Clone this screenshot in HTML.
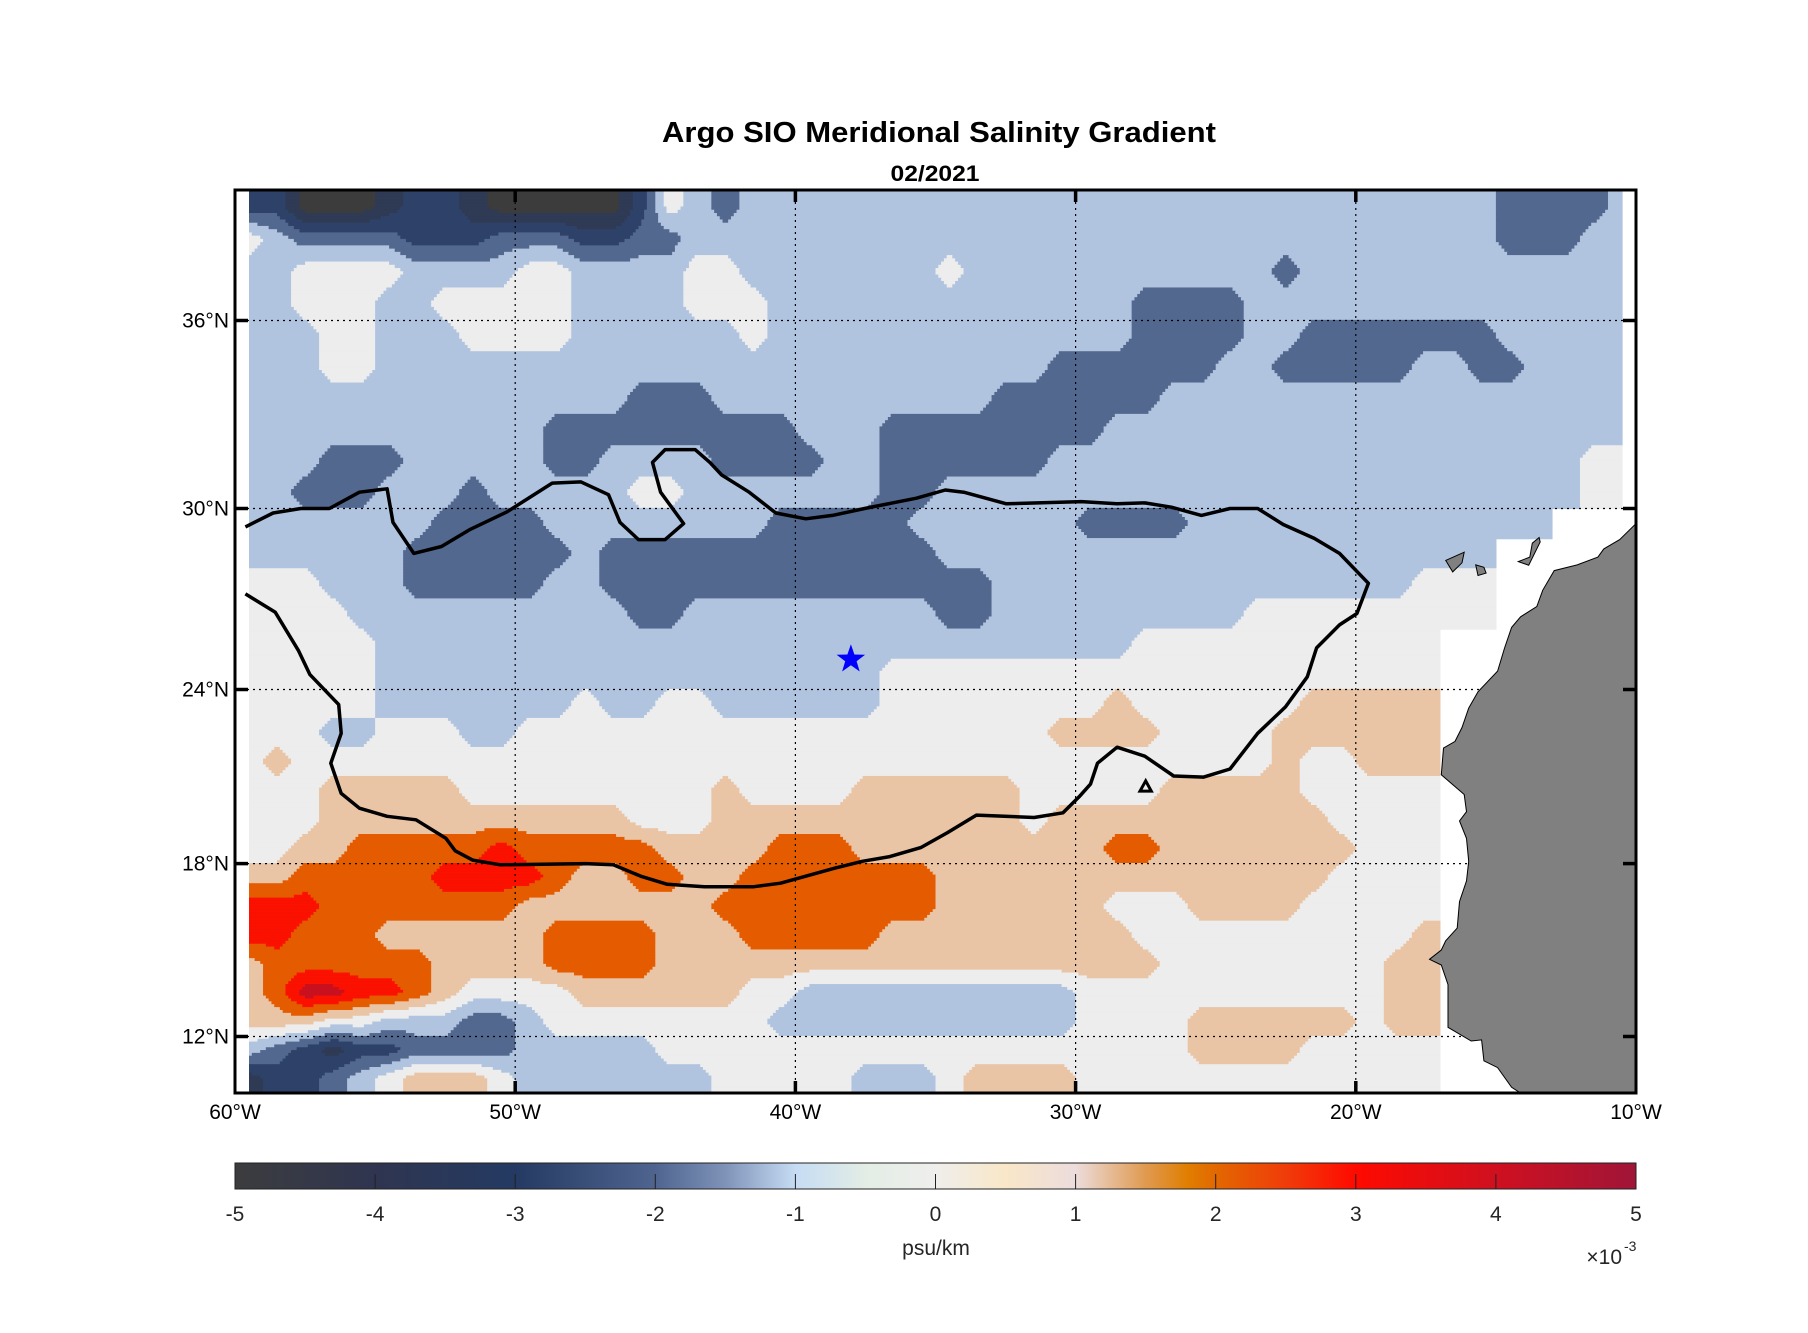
<!DOCTYPE html>
<html><head><meta charset="utf-8"><style>
html,body{margin:0;padding:0;background:#fff;}
svg{display:block;font-family:"Liberation Sans",Arial,sans-serif;}
</style></head><body>
<svg id="chart" width="1808" height="1333" viewBox="0 0 1808 1333" xmlns="http://www.w3.org/2000/svg">
<defs>
<clipPath id="plotClip"><rect x="235" y="190" width="1401" height="903"/></clipPath>
<linearGradient id="cbGrad" x1="0" x2="1" y1="0" y2="0">
<stop offset="0" stop-color="#3c3c3e"/><stop offset="0.1" stop-color="#2f3550"/><stop offset="0.2" stop-color="#243a62"/>
<stop offset="0.3" stop-color="#4f6590"/><stop offset="0.35" stop-color="#7f93b8"/><stop offset="0.4" stop-color="#c6dcf4"/>
<stop offset="0.45" stop-color="#e3ede6"/><stop offset="0.5" stop-color="#efeeec"/><stop offset="0.55" stop-color="#f9e7c8"/>
<stop offset="0.6" stop-color="#ecdcdc"/><stop offset="0.65" stop-color="#e09a50"/><stop offset="0.68" stop-color="#e07e00"/>
<stop offset="0.7" stop-color="#e26800"/><stop offset="0.75" stop-color="#f03c0a"/><stop offset="0.8" stop-color="#ff0a00"/>
<stop offset="0.9" stop-color="#cf1020"/><stop offset="1" stop-color="#a01538"/>
</linearGradient>
</defs>
<text x="939" y="142" text-anchor="middle" font-size="29" font-weight="bold" textLength="554" lengthAdjust="spacingAndGlyphs">Argo SIO Meridional Salinity Gradient</text>
<text x="935" y="181" text-anchor="middle" font-size="22" font-weight="bold" textLength="89" lengthAdjust="spacingAndGlyphs">02/2021</text>
<g id="fills" clip-path="url(#plotClip)"></g>
<g id="grid"></g>
<g id="land" clip-path="url(#plotClip)"></g>
<g id="contour" clip-path="url(#plotClip)"></g>
<g id="marker"></g>
<rect x="235" y="190" width="1401" height="903" fill="none" stroke="#000" stroke-width="3"/>
<g id="axes"></g>
<g id="cbar">
<rect x="235" y="1163" width="1401" height="26" fill="url(#cbGrad)" stroke="#222" stroke-width="1"/>
</g>
<text x="936" y="1255" text-anchor="middle" font-size="21" fill="#262626">psu/km</text>
<text x="1622" y="1264" text-anchor="end" font-size="21" fill="#262626">×10</text>
<text x="1624" y="1251" text-anchor="start" font-size="14" fill="#262626">-3</text>
</svg>
<script>
// ---- data: gridded meridional salinity gradient, bin digit d => value (d-4.5)e-3 psu/km, '.' = no data
// rows from lat 39.5N (top) to 10.5N, columns lon -59.5 .. -10.5 (1 degree)
const gridLatTop = 39.5;
const gridLonLeft = -59.5;
const gradRows = [
"220001221000002543"+"444444444444444444444444444"+"33334",
"5433332223332233"+"44444444444444444444444444444"+"33344",
"4455554444554444554"+"444444"+"5"+"44444444444"+"3"+"444444444444",
"4455544555554444555"+"4444444444444"+"3333"+"44444444444444",
"444554445555"+"444444"+"5"+"4444444444444"+"3333"+"44"+"3333333"+"44444",
"44455"+"444444444444444444444444"+"333333"+"44"+"33333"+"44"+"33"+"4444",
"44444444444444"+"333"+"4444444444"+"333333"+"44444444444444444",
"44444444444"+"333333333"+"444"+"33333333"+"4444444444444444444",
"444333"+"44444"+"33"+"4444"+"3333"+"44"+"333333"+"4444444444444444444"+"55",
"44333"+"444"+"3"+"44444"+"55"+"4444444"+"33"+"44444444444444444444444"+"55",
"4444444"+"3333"+"44444444"+"33333"+"444444"+"3333"+"4444444444444"+"...",
"444444"+"333333"+"4"+"333333333333"+"4444444444444444444"+"4"+".....",
"555"+"444"+"33333"+"44"+"33333333333333"+"444444444444444"+"555"+".....",
"5555"+"444444444"+"4"+"33"+"444444444"+"33"+"444444444"+"555555555"+".....",
"55555"+"444444444444444444444444444"+"55555555555"+".......",
"55555"+"444444444444444444"+"5555555555555555555"+"5"+".......",
"55555"+"4444444"+"5"+"44"+"55"+"444444"+"55555555"+"6"+"555555"+"66666"+".......",
"55544555445"+"555555555555555555"+"6666"+"5555"+"666666"+".......",
"56"+"55555555555555555555555555555555555"+"6"+"55"+"666"+".......",
"555"+"66666"+"555555555"+"6"+"5555"+"666666"+"55555"+"66666"+"55555"+".......",
"555"+"66666666666"+"555"+"66666666666"+"5"+"6666666666"+"5555"+".......",
"55"+"66"+"77777"+"8"+"77777"+"6666"+"777"+"666666666"+"77"+"6666666"+"555"+".......",
"66"+"77777"+"8888"+"7"+"66"+"77"+"66"+"7777777"+"66666666666666"+"5555"+".......",
"888777777"+"7"+"6666666"+"77777777"+"666666"+"555"+"6666"+"55555"+".......",
"88"+"777"+"666666"+"7777"+"666"+"77777"+"666666666"+"5555555555"+"6"+".......",
"6"+"777777"+"6666"+"7777"+"666666666666666666"+"55555555"+"66"+".......",
"67"+"99"+"88"+"7"+"6"+"5555"+"666666"+"55"+"4444444444"+"55555555555"+"66"+".......",
"666"+"55"+"444"+"33"+"4"+"55555555"+"44444444444"+"5555"+"666666"+"5"+"66"+".......",
"4"+"3"+"2"+"1"+"22"+"3333"+"44444"+"5555555555555555555"+"6666"+"55555"+".......",
"1"+"22"+"3"+"4"+"5"+"666"+"5"+"4444444"+"55555"+"444"+"5"+"6666"+"5555555555555"+"......."
];
const levelTicks = [-5,-4,-3,-2,-1,0,1,2,3,4,5];
const levelColors = ["#3c3c3c","#2f3a55","#2e4269","#53688f","#b0c4e0","#ededed","#e9c5a6","#e55c00","#fb1100","#c8101f"];
const lonTicks = [-60,-50,-40,-30,-20,-10];
const lonTickLabels = ["60°W","50°W","40°W","30°W","20°W","10°W"];
const latTicks = [12,18,24,30,36];
const latTickLabels = ["12°N","18°N","24°N","30°N","36°N"];
// contour line (lon, lat)
const contourLon = [-59.63,-58.64,-57.65,-56.63,-55.56,-54.57,-54.36,-53.62,-52.63,-51.6,-50.29,-48.68,-47.65,-46.67,-46.26,-45.6,-44.65,-43.99,-44.81,-45.1,-44.65,-43.58,-43.05,-42.63,-41.65,-40.7,-39.63,-38.68,-37.53,-35.68,-34.65,-33.99,-32.47,-29.79,-28.52,-27.53,-26.58,-25.51,-24.49,-23.5,-22.59,-21.48,-20.58,-19.55,-19.96,-20.58,-21.4,-21.73,-22.51,-23.5,-24.49,-25.43,-26.5,-27.53,-28.52,-29.22,-29.47,-29.88,-30.45,-31.48,-33.54,-34.57,-35.51,-36.63,-37.61,-38.6,-40.53,-41.48,-43.25,-44.57,-45.51,-46.5,-47.49,-50.53,-51.52,-52.14,-52.47,-53.54,-54.57,-55.56,-56.21,-56.58,-56.21,-56.3,-57.33,-57.74,-58.56,-59.63];
const contourLat = [29.39,29.85,30.0,30.0,30.52,30.63,29.54,28.51,28.74,29.31,29.89,30.81,30.85,30.44,29.54,28.97,28.97,29.5,30.52,31.47,31.88,31.88,31.47,31.07,30.52,29.85,29.66,29.77,30.0,30.33,30.59,30.52,30.15,30.22,30.15,30.18,30.04,29.77,30.0,30.0,29.47,29.01,28.51,27.52,26.52,26.14,25.38,24.42,23.4,22.49,21.26,20.98,21.02,21.7,22.01,21.46,20.74,20.3,19.75,19.59,19.67,19.07,18.56,18.24,18.08,17.84,17.32,17.2,17.2,17.28,17.56,17.96,18.0,17.96,18.12,18.44,18.87,19.51,19.63,19.91,20.42,21.46,22.49,23.48,24.5,25.3,26.56,27.17];
const loopLon = [-27.7,-27.5,-27.3];
const loopLat = [20.5,20.85,20.5];
const starLon = -38.02, starLat = 25.0;
// Africa coast + islands (lon/lat)
const landLon = [-10,-10.58,-11.15,-11.36,-12.1,-12.92,-13.33,-13.54,-14.12,-14.44,-14.69,-14.94,-15.64,-15.97,-16.21,-16.46,-16.87,-16.95,-16.13,-16.05,-16.3,-16.05,-15.97,-16.05,-16.3,-16.38,-16.79,-16.95,-17.37,-16.95,-16.71,-16.71,-15.88,-15.51,-15.43,-14.94,-14.44,-14.12,-10];
const landLat = [29.5,28.97,28.66,28.39,28.13,27.94,27.29,26.75,26.41,26.06,25.38,24.61,23.92,23.36,22.69,22.21,21.98,21.06,20.38,19.79,19.47,18.87,18.08,17.4,16.68,15.76,15.32,15.0,14.68,14.48,13.8,12.32,11.84,11.88,11.14,10.9,10.2,10.0,10.0];
const islands = [
 {lon:[-16.79,-16.13,-16.21,-16.54], lat:[28.28,28.55,28.2,27.9]},
 {lon:[-15.72,-15.43,-15.35,-15.64], lat:[28.13,28.05,27.86,27.78]},
 {lon:[-14.2,-13.79,-13.7,-13.46,-13.42,-13.83], lat:[28.24,28.39,28.85,29.04,28.89,28.12]}
];

// ---- projection
const NS='http://www.w3.org/2000/svg';
const X0=235, X1=1636;
const latKnots=[10,12,18,24,30,36,40.03];
const yKnots=[1093,1036.5,863.6,689.5,508.5,320.5,190];
function lonToX(lon){return X0+(lon+60)/50*(X1-X0);}
function latToY(lat){
  for(let k=0;k<latKnots.length-1;k++){
    if(lat<=latKnots[k+1]||k===latKnots.length-2){
      const t=(lat-latKnots[k])/(latKnots[k+1]-latKnots[k]);
      return yKnots[k]+t*(yKnots[k+1]-yKnots[k]);
    }
  }
}
function mk(tag,attrs,parent){const e=document.createElementNS(NS,tag);for(const k in attrs)e.setAttribute(k,attrs[k]);parent.appendChild(e);return e;}

// ---- grid values
const NR=gradRows.length, NC=50;
const vals=gradRows.map(r=>{const a=[];for(let j=0;j<NC;j++){const c=r.charAt(j);a.push(c>='0'&&c<='9'?(+c-4.5):null);}return a;});
function cell(i,j){i=Math.max(0,Math.min(NR-1,i));j=Math.max(0,Math.min(NC-1,j));return vals[i][j];}
function sample(lon,lat){
  const u=lon-gridLonLeft, v=gridLatTop-lat;
  const ci=Math.round(v), cj=Math.round(u);
  if(cell(ci,cj)===null) return null;
  const i0=Math.floor(v), j0=Math.floor(u), ty=v-i0, tx=u-j0;
  const pts=[[i0,j0,(1-ty)*(1-tx)],[i0,j0+1,(1-ty)*tx],[i0+1,j0,ty*(1-tx)],[i0+1,j0+1,ty*tx]];
  let s=0,w=0;
  for(const p of pts){const c=cell(p[0],p[1]);if(c!==null){s+=c*p[2];w+=p[2];}}
  return w>0?s/w:cell(ci,cj);
}
function levelOf(v){return Math.max(0,Math.min(9,Math.floor(v)+5));}

// ---- fills
const fills=document.getElementById('fills');
const step=0.1;
const lonA=gridLonLeft, lonB=-10.5;
const nx=Math.round((lonB-lonA)/step), ny=Math.round(30/step);
for(let r=0;r<ny;r++){
  const latTop=40-r*step, latBot=latTop-step, latMid=latTop-step/2;
  const yT=latToY(latTop+0.02), yB=latToY(latBot);
  let runStart=0, runLev=null;
  for(let c=0;c<=nx;c++){
    let lev=null;
    if(c<nx){const v=sample(lonA+(c+0.5)*step,latMid);lev=v===null?null:levelOf(v);}
    if(c===nx||lev!==runLev){
      if(runLev!==null){
        const xa=lonToX(lonA+runStart*step), xb=lonToX(lonA+c*step);
        const rect=mk('rect',{x:xa.toFixed(2),y:yT.toFixed(2),width:(xb-xa+0.6).toFixed(2),height:(yB-yT+0.6).toFixed(2),fill:levelColors[runLev]},fills);
        
        
      }
      runStart=c; runLev=lev;
    }
  }
}

// ---- graticule
const grid=document.getElementById('grid');
lonTicks.slice(1,-1).forEach(l=>{
  const ln=mk('line',{x1:lonToX(l),x2:lonToX(l),y1:190,y2:1093,stroke:'#000','stroke-width':1.2,'stroke-dasharray':'2 4'},grid);
  
  
});
latTicks.forEach(l=>{
  const ln=mk('line',{x1:X0,x2:X1,y1:latToY(l),y2:latToY(l),stroke:'#000','stroke-width':1.2,'stroke-dasharray':'2 4'},grid);
  
  
});

// ---- land
const land=document.getElementById('land');
const lp=landLon.map((l,k)=>lonToX(l).toFixed(1)+','+latToY(landLat[k]).toFixed(1)).join(' ');
const landPoly=mk('polygon',{points:lp,fill:'#808080',stroke:'#000','stroke-width':1},land);


islands.forEach(isl=>{
  const p=isl.lon.map((l,k)=>lonToX(l).toFixed(1)+','+latToY(isl.lat[k]).toFixed(1)).join(' ');
  const pg=mk('polygon',{points:p,fill:'#808080',stroke:'#000','stroke-width':1},land);
  
  
});

// ---- contour line
const cg=document.getElementById('contour');
const cpts=contourLon.map((l,k)=>lonToX(l).toFixed(1)+','+latToY(contourLat[k]).toFixed(1)).join(' ');
const cl=mk('polyline',{points:cpts,fill:'none',stroke:'#000','stroke-width':3.5,'stroke-linejoin':'round'},cg);


const lpts=loopLon.map((l,k)=>lonToX(l).toFixed(1)+','+latToY(loopLat[k]).toFixed(1)).join(' ');
const lo=mk('polygon',{points:lpts,fill:'none',stroke:'#000','stroke-width':3},cg);



// ---- star
const mg=document.getElementById('marker');
const sx=lonToX(starLon), sy=latToY(starLat);
let sp=[];for(let k=0;k<10;k++){const a=-Math.PI/2+k*Math.PI/5;const rr=k%2?6:15;sp.push((sx+rr*Math.cos(a)).toFixed(1)+','+(sy+rr*Math.sin(a)).toFixed(1));}
const star=mk('polygon',{points:sp.join(' '),fill:'#0000ff'},mg);



// ---- axes ticks and labels
const ax=document.getElementById('axes');
lonTicks.forEach((l,k)=>{
  const x=lonToX(l);
  if(k>0&&k<lonTicks.length-1){
    const t1=mk('line',{x1:x,x2:x,y1:190,y2:202,stroke:'#000','stroke-width':3.5},ax);
    
    
    const t2=mk('line',{x1:x,x2:x,y1:1081,y2:1093,stroke:'#000','stroke-width':3.5},ax);
    
    
  }
  const tx=mk('text',{x:x,y:1119,'text-anchor':'middle','font-size':21},ax);
  tx.textContent=lonTickLabels[k];
  
  
});
latTicks.forEach((l,k)=>{
  const y=latToY(l);
  const t1=mk('line',{x1:235,x2:248,y1:y,y2:y,stroke:'#000','stroke-width':3.5},ax);
  
  
  const t2=mk('line',{x1:1623,x2:1636,y1:y,y2:y,stroke:'#000','stroke-width':3.5},ax);
  
  
  const tx=mk('text',{x:229,y:y+7,'text-anchor':'end','font-size':21},ax);
  tx.textContent=latTickLabels[k];
  
  
});

// ---- colorbar ticks
const cb=document.getElementById('cbar');
levelTicks.forEach(v=>{
  const x=235+(v+5)/10*1401;
  if(v>-5&&v<5){
    const t=mk('line',{x1:x,x2:x,y1:1174,y2:1189,stroke:'#222','stroke-width':1},cb);
    
    
  }
  const tx=mk('text',{x:x,y:1221,'text-anchor':'middle','font-size':21,fill:'#262626'},cb);
  tx.textContent=String(v);
  
  
});
</script>
</body></html>
